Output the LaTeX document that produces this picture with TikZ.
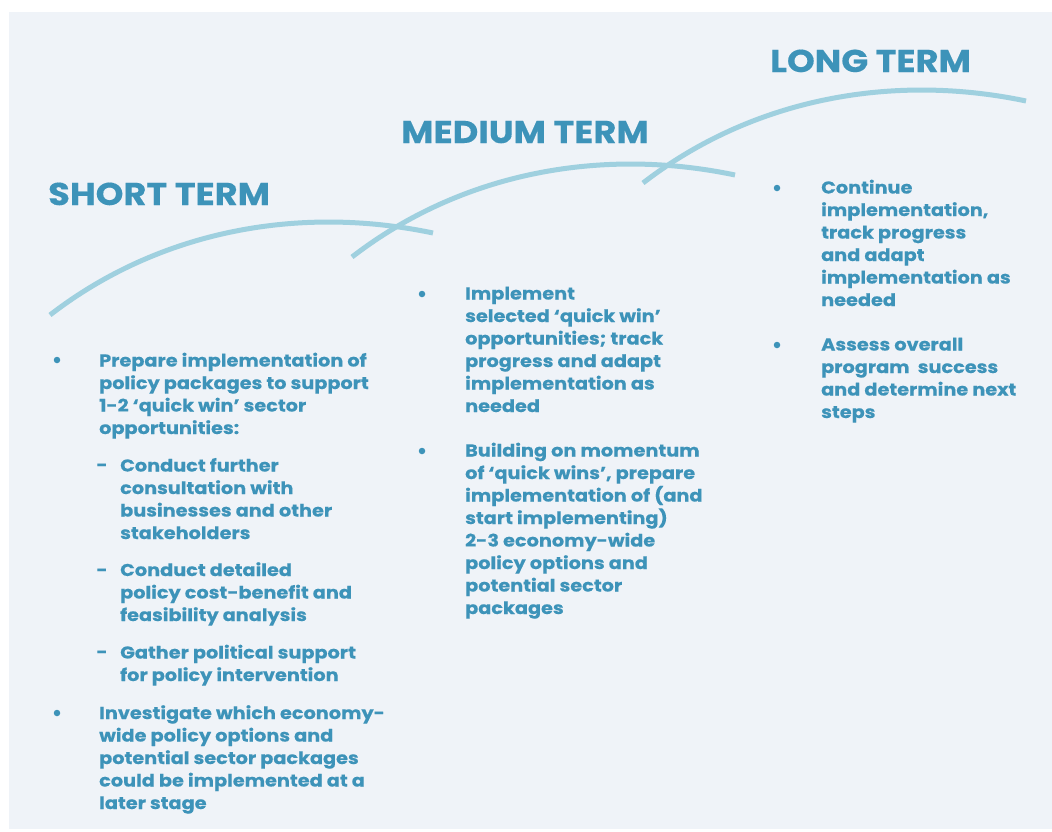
\documentclass[tikz,border=0pt]{standalone}
\usepackage{fontspec}
\setmainfont{Poppins}[BoldFeatures={FakeStretch=1.12,FakeBold=0.4}]
\usetikzlibrary{positioning}
\definecolor{termblue}{HTML}{3D93B9}
\definecolor{arcblue}{HTML}{9FD0DF}
\definecolor{panel}{HTML}{EFF3F8}

\begin{document}
\begin{tikzpicture}[x=1pt,y=-1pt,
  term/.style={anchor=base west,inner sep=0,text=termblue,font=\fontsize{31.5}{33}\selectfont\bfseries},
  entry/.style={anchor=base west,inner sep=0,text=termblue,align=left,font=\fontsize{17.2}{22.5}\selectfont\bfseries},
  dot/.style={circle,fill=termblue,inner sep=0,minimum size=6.5pt},
  dashmark/.style={anchor=base,inner sep=0,text=termblue,font=\fontsize{17.2}{22.5}\selectfont\bfseries},
  wave/.style={draw=arcblue,line width=5pt}]
\useasboundingbox (0,0) rectangle (1052,831);
\fill[white] (0,0) rectangle (1052,831);
\fill[panel] (9,12) rectangle (1052,829);

% the three rising arcs
\foreach \sx/\sy in {50/315,352/257,643/183}{
  \begin{scope}[shift={(\sx,\sy)}]
    \draw[wave] (0,0) .. controls (110,-85) and (250,-110) .. (383,-82);
  \end{scope}
}

% headings
\node[term] (short) at (48,205) {SHORT TERM};
\node[term] (medium) at (401,143) {MEDIUM TERM};
\node[term] (long) at (770,72) {LONG TERM};

% short term (base = last line)
\node[dot] (s1dot) at (57,360) {};
\node[entry] (s1) at (99,434) {Prepare implementation of\\policy packages to support\\1-2 ‘quick win’ sector\\opportunities:};
\node[dashmark] (s2dash) at (102,471) {-};
\node[entry] (s2) at (120,539) {Conduct further\\consultation with\\businesses and other\\stakeholders};
\node[dashmark] (s3dash) at (102,576) {-};
\node[entry] (s3) at (120,621) {Conduct detailed\\policy cost-benefit and\\feasibility analysis};
\node[dashmark] (s4dash) at (102,658) {-};
\node[entry] (s4) at (120,681) {Gather political support\\for policy intervention};
\node[dot] (s5dot) at (57,713) {};
\node[entry] (s5) at (99,809) {Investigate which economy-\\wide policy options and\\potential sector packages\\could be implemented at a\\later stage};

% medium term
\node[dot] (m1dot) at (422,294) {};
\node[entry] (m1) at (465,412) {Implement\\selected ‘quick win’\\opportunities; track\\progress and adapt\\implementation as\\needed};
\node[dot] (m2dot) at (422,451) {};
\node[entry] (m2) at (465,614) {Building on momentum\\of ‘quick wins’, prepare\\implementation of (and\\start implementing)\\2-3 economy-wide\\policy options and\\potential sector\\packages};

% long term
\node[dot] (l1dot) at (777,188) {};
\node[entry] (l1) at (821,306) {Continue\\implementation,\\track progress\\and adapt\\implementation as\\needed};
\node[dot] (l2dot) at (777,345) {};
\node[entry] (l2) at (821,418) {Assess overall\\program~ success\\and determine next\\steps};
\end{tikzpicture}
\end{document}
